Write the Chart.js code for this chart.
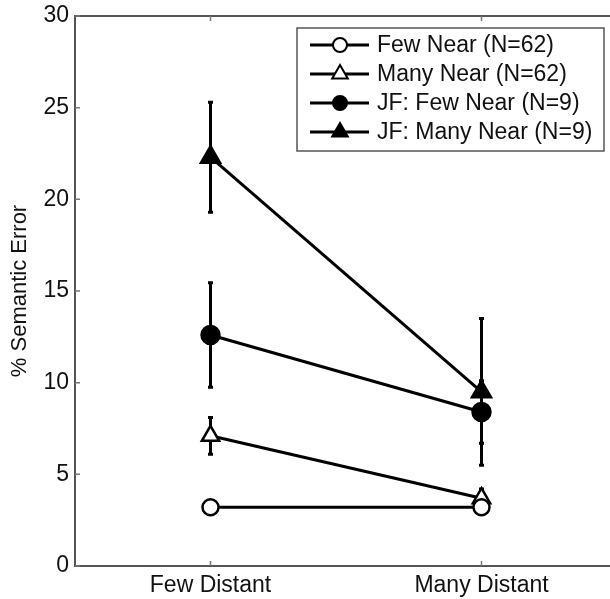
<!DOCTYPE html>
<html>
<head>
<meta charset="utf-8">
<script src="https://cdn.jsdelivr.net/npm/chart.js@4/dist/chart.umd.min.js"></script>
<style>
html,body{margin:0;padding:0;background:#fff;overflow:hidden;width:610px;height:599px;}
#wrap{position:absolute;left:0;top:0;width:620px;height:599px;}
</style>
</head>
<body>
<div id="wrap"><canvas id="c" width="620" height="599"></canvas></div>
<script>
const categories = ['Few Distant', 'Many Distant'];
const yTicks = [0, 5, 10, 15, 20, 25, 30];
const yTitle = '% Semantic Error';

const seriesNames = ['Few Near (N=62)', 'Many Near (N=62)', 'JF: Few Near (N=9)', 'JF: Many Near (N=9)'];
const fewNear = [3.2, 3.2];
const fewNearErr = [0.3, 0.3];
const manyNear = [7.1, 3.7];
const manyNearErr = [1.0, 0.5];
const jfFewNear = [12.6, 8.4];
const jfFewNearErr = [2.85, 1.7];
const jfManyNear = [22.3, 9.5];
const jfManyNearErr = [3.0, 4.0];

const FONT = '"Liberation Sans", Arial, Helvetica, sans-serif';

const styles = [
  {pointStyle: 'circle', fill: '#ffffff', radius: 8},
  {pointStyle: 'triangle', fill: '#ffffff', radius: 10},
  {pointStyle: 'circle', fill: '#000000', radius: 9},
  {pointStyle: 'triangle', fill: '#000000', radius: 11}
];
const values = [fewNear, manyNear, jfFewNear, jfManyNear];
const errors = [fewNearErr, manyNearErr, jfFewNearErr, jfManyNearErr];

const datasets = values.map((v, i) => ({
  label: seriesNames[i],
  data: v,
  errors: errors[i],
  borderColor: '#000',
  borderWidth: 3,
  tension: 0,
  fill: false,
  pointStyle: styles[i].pointStyle,
  pointRadius: styles[i].radius,
  pointHoverRadius: styles[i].radius,
  pointBackgroundColor: styles[i].fill,
  pointBorderColor: '#000',
  pointBorderWidth: 2.5
}));

const errorBars = {
  id: 'errorBars',
  beforeDatasetsDraw(chart) {
    const ctx = chart.ctx, y = chart.scales.y;
    ctx.save();
    ctx.strokeStyle = '#000';
    ctx.lineWidth = 3;
    chart.data.datasets.forEach((ds, di) => {
      const meta = chart.getDatasetMeta(di);
      meta.data.forEach((pt, j) => {
        const v = ds.data[j], e = ds.errors[j];
        const yt = y.getPixelForValue(v + e), yb = y.getPixelForValue(v - e);
        ctx.beginPath();
        ctx.moveTo(pt.x, yt); ctx.lineTo(pt.x, yb);
        ctx.moveTo(pt.x - 2.5, yt); ctx.lineTo(pt.x + 2.5, yt);
        ctx.moveTo(pt.x - 2.5, yb); ctx.lineTo(pt.x + 2.5, yb);
        ctx.stroke();
      });
    });
    ctx.restore();
  }
};

const frame = {
  id: 'frame',
  afterDraw(chart) {
    const ctx = chart.ctx, a = chart.chartArea, x = chart.scales.x, y = chart.scales.y;
    ctx.save();
    ctx.strokeStyle = '#555';
    ctx.lineWidth = 2;
    ctx.beginPath();
    ctx.moveTo(a.right, a.top); ctx.lineTo(a.left, a.top); ctx.lineTo(a.left, a.bottom); ctx.lineTo(a.right, a.bottom);
    ctx.stroke();
    ctx.lineWidth = 1.5;
    ctx.strokeStyle = '#777';
    ctx.beginPath();
    yTicks.forEach(t => {
      const py = y.getPixelForValue(t);
      ctx.moveTo(a.left, py); ctx.lineTo(a.left + 5, py);
    });
    categories.forEach((c, i) => {
      const px = x.getPixelForValue(i);
      ctx.moveTo(px, a.bottom); ctx.lineTo(px, a.bottom - 5);
      ctx.moveTo(px, a.top); ctx.lineTo(px, a.top + 5);
    });
    ctx.stroke();
    // y title
    ctx.fillStyle = '#111';
    ctx.font = '22px ' + FONT;
    ctx.textAlign = 'center';
    ctx.textBaseline = 'middle';
    ctx.translate(20, (a.top + a.bottom) / 2);
    ctx.rotate(-Math.PI / 2);
    ctx.fillText(yTitle, 0, 0);
    ctx.restore();

    // legend
    ctx.save();
    const bx = 297, by = 28, bw = 307, bh = 123;
    ctx.fillStyle = '#fff';
    ctx.fillRect(bx, by, bw, bh);
    ctx.strokeStyle = '#555';
    ctx.lineWidth = 1.5;
    ctx.strokeRect(bx, by, bw, bh);
    const rows = [45, 74, 103, 132];
    chart.data.datasets.forEach((ds, i) => {
      const ry = rows[i];
      ctx.strokeStyle = '#000';
      ctx.lineWidth = 3;
      ctx.beginPath(); ctx.moveTo(310, ry); ctx.lineTo(369, ry); ctx.stroke();
      ctx.fillStyle = ds.pointBackgroundColor;
      ctx.lineWidth = 2;
      Chart.helpers.drawPoint(ctx, {pointStyle: ds.pointStyle, radius: ds.pointStyle === 'circle' ? 7 : 9, rotation: 0, borderWidth: 2}, 340, ry);
      ctx.fillStyle = '#111';
      ctx.font = '23px ' + FONT;
      ctx.textAlign = 'left';
      ctx.textBaseline = 'middle';
      ctx.fillText(ds.label, 377, ry + 1);
    });
    ctx.restore();
  }
};

new Chart(document.getElementById('c'), {
  type: 'line',
  data: {labels: categories, datasets},
  options: {
    responsive: false,
    animation: false,
    layout: {autoPadding: false, padding: {top: 16, right: 3, left: 0, bottom: 0}},
    plugins: {legend: {display: false}, tooltip: {enabled: false}},
    scales: {
      x: {
        type: 'category',
        offset: true,
        grid: {display: false, drawTicks: false},
        border: {display: false},
        ticks: {color: '#111', font: {size: 23, family: FONT}, padding: 6, maxRotation: 0},
        afterFit(s) { s.height = 33; s.paddingLeft = 0; s.paddingRight = 0; }
      },
      y: {
        min: 0, max: 30,
        afterBuildTicks(s) { s.ticks = yTicks.map(v => ({value: v})); },
        grid: {display: false, drawTicks: false},
        border: {display: false},
        ticks: {color: '#111', font: {size: 23, family: FONT}, padding: 6},
        afterFit(s) { s.width = 75; s.paddingTop = 0; s.paddingBottom = 0; }
      }
    }
  },
  plugins: [errorBars, frame]
});
</script>
</body>
</html>
